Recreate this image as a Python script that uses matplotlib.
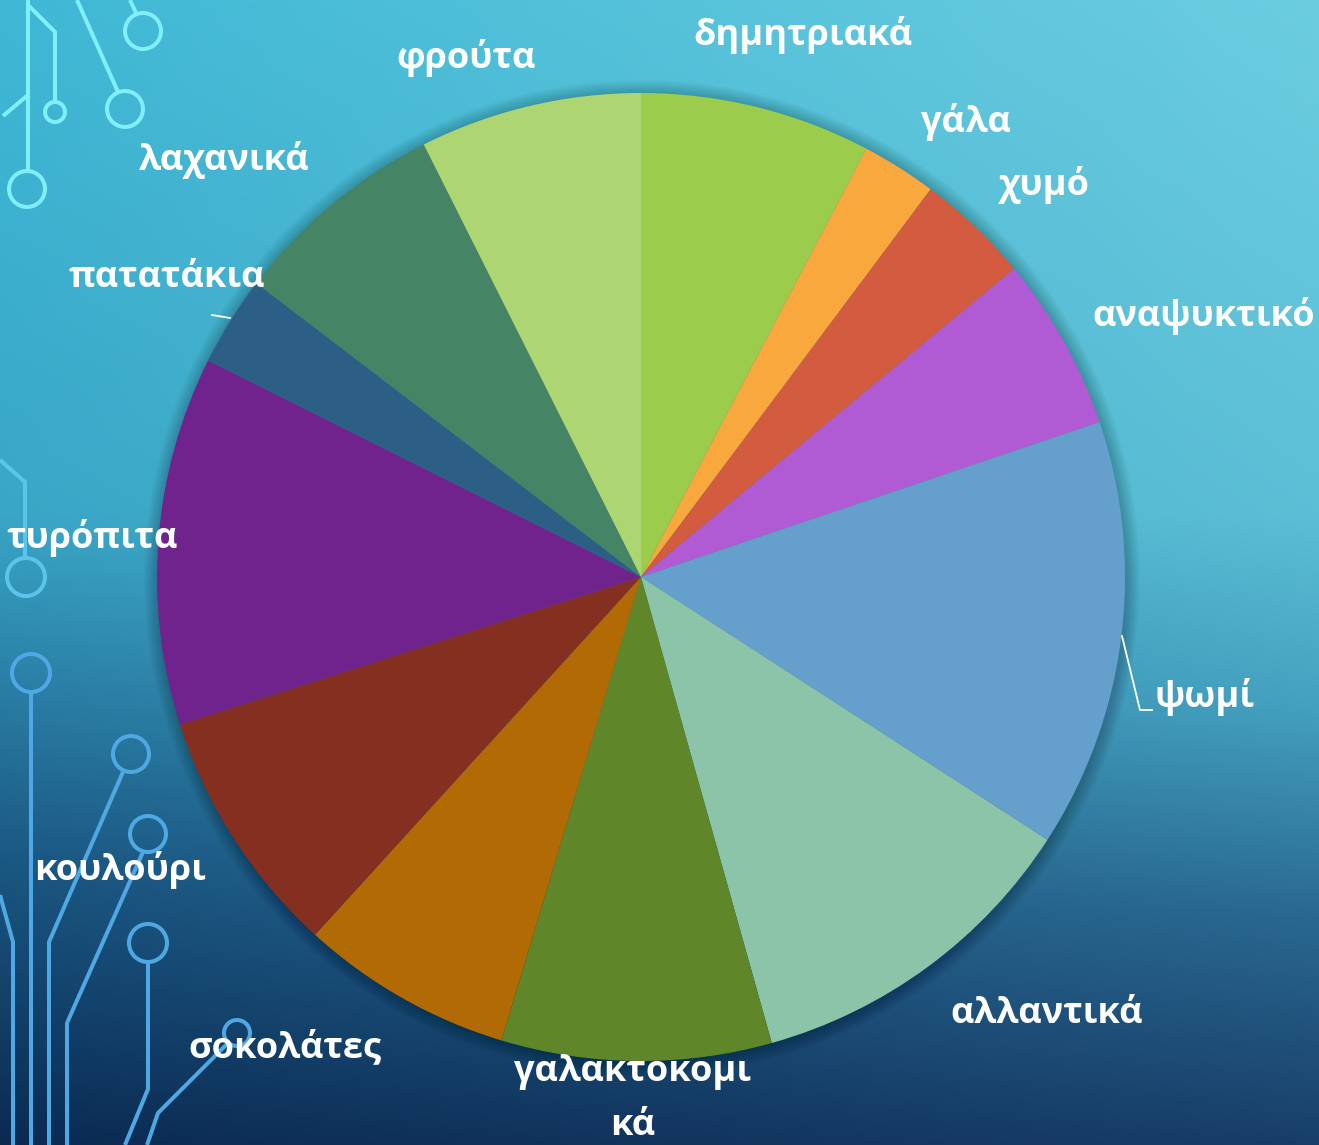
import numpy as np
import matplotlib.pyplot as plt
from matplotlib.colors import to_rgb
from matplotlib.patches import Circle

W, H = 1319, 1145

# food categories, clockwise from 12 o'clock
foods = ["δημητριακά", "γάλα", "χυμό", "αναψυκτικό", "ψωμί", "αλλαντικά",
         "γαλακτοκομι\nκά", "σοκολάτες", "κουλούρι", "τυρόπιτα", "πατατάκια",
         "λαχανικά", "φρούτα"]
shares = [7.7, 2.5, 3.8, 5.8, 14.3, 11.5, 9.0, 7.1, 8.3, 12.3, 3.0, 7.2, 7.4]
colors = ["#9BCC4C", "#F9A83D", "#D25B40", "#B05AD4", "#64A0CB", "#8BC4A8",
          "#5F8628", "#B26A04", "#852F21", "#70228D", "#2D5F86", "#458566",
          "#ADD672"]

# label anchor points in pixel space (y measured from top)
label_pos = [(803, 35), (966, 122), (1044, 185), (1204, 316), (1205, 697),
             (1047, 1014), (633, 1099), (285, 1048), (120, 870), (92, 538),
             (167, 278), (224, 160), (466, 58)]

cx, cy, R = 641, 577, 484


def fy(y):
    return H - y


fig = plt.figure(figsize=(W / 100, H / 100), dpi=100)
ax = fig.add_axes([0, 0, 1, 1])

# background gradient: light cyan top right fading to navy bottom left
ys = np.linspace(0, 1, H)
xs = np.linspace(0, 1, W)
left_stops = [0, 0.45, 0.6, 0.75, 1.0]
left_cols = ["#3FB8D5", "#39A6C7", "#2A7EA5", "#1A5883", "#0A2A52"]
right_stops = [0, 0.45, 0.62, 0.8, 1.0]
right_cols = ["#6CCDE0", "#5CBFD6", "#44A0BF", "#2A6891", "#183E68"]
lc = np.array([to_rgb(c) for c in left_cols])
rc = np.array([to_rgb(c) for c in right_cols])
left = np.stack([np.interp(ys, left_stops, lc[:, k]) for k in range(3)], axis=1)
right = np.stack([np.interp(ys, right_stops, rc[:, k]) for k in range(3)], axis=1)
wx = xs[None, :, None]
img = left[:, None, :] * (1 - wx) + right[:, None, :] * wx
ax.imshow(img, extent=(0, W, 0, H), origin="upper", zorder=0, aspect="auto")

# circuit decoration on the left edge
lw = 2.9
top_col, mid_col, low_col = "#80EEFB", "#5BC4EA", "#4FA8E3"
traces = [
    ([(28, 0), (28, 171)], top_col),
    ([(28, 5), (55, 32), (55, 102)], top_col),
    ([(28, 95), (3, 116)], top_col),
    ([(77, 0), (118, 92)], top_col),
    ([(130, 0), (136, 13)], top_col),
    ([(0, 460), (25, 482), (25, 558)], mid_col),
    ([(31, 692), (31, 1145)], low_col),
    ([(123, 772), (49, 942), (49, 1145)], low_col),
    ([(143, 852), (67, 1023), (67, 1145)], low_col),
    ([(148, 961), (148, 1089), (125, 1145)], low_col),
    ([(228, 1043), (158, 1113), (147, 1145)], low_col),
    ([(0, 895), (13, 942), (13, 1145)], low_col),
]
for pts, c in traces:
    px = [p[0] for p in pts]
    py = [fy(p[1]) for p in pts]
    ax.plot(px, py, color=c, lw=lw, solid_capstyle="butt", zorder=1)
nodes = [((27, 189), 18, top_col), ((55, 112), 10, top_col),
         ((125, 109), 18, top_col), ((143, 31), 18, top_col),
         ((26, 577), 19, mid_col), ((31, 673), 19, low_col),
         ((131, 754), 18, low_col), ((148, 834), 18, low_col),
         ((148, 943), 19, low_col), ((237, 1033), 13, low_col)]
for (x, y), r, c in nodes:
    ax.add_patch(Circle((x, fy(y)), r, fill=False, ec=c, lw=lw, zorder=1))

# soft shadow behind the pie
for k in range(14):
    ax.add_patch(Circle((cx + 1, fy(cy) - 1), R + 14 - k, color="black",
                        alpha=0.015, lw=0, zorder=2))

ax.pie(shares, colors=colors, startangle=90, counterclock=False,
       center=(cx, fy(cy)), radius=R,
       wedgeprops=dict(linewidth=0, zorder=3))

for name, (x, y) in zip(foods, label_pos):
    ax.text(x, fy(y), name, ha="center", va="center", color="white",
            fontsize=26, fontweight="bold", family=["Open Sans", "DejaVu Sans"],
            linespacing=1.65, zorder=5)

# leader lines
ax.plot([1122, 1140, 1152], [fy(636), fy(710), fy(710)], color="white",
        lw=1.3, zorder=4)
ax.plot([212, 230], [fy(315), fy(318)], color="white", lw=1.3, zorder=4)

ax.set_xlim(0, W)
ax.set_ylim(0, H)
ax.set_aspect("auto")
ax.axis("off")
fig.savefig("out.png", dpi=100)
